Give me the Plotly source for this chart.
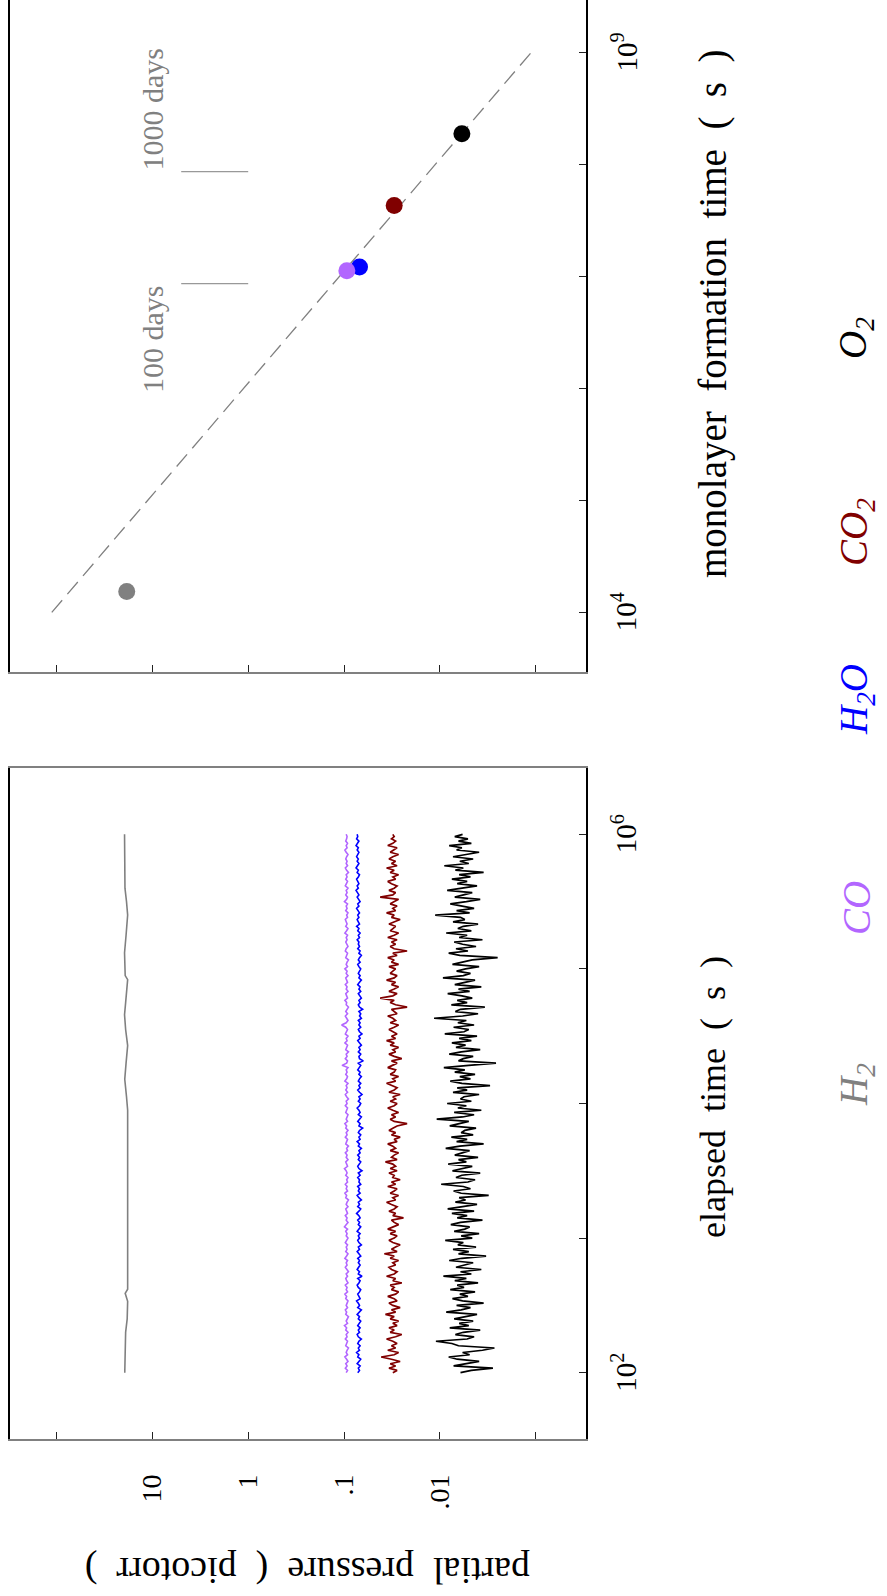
import numpy as np
import plotly.graph_objects as go

W, H = 887, 1596

# ---------------- data ----------------
gas_labels = ["<i>H<sub>2</sub></i>", "<i>CO</i>", "<i>H<sub>2</sub>O</i>",
              "<i>CO<sub>2</sub></i>", "<i>O<sub>2</sub></i>"]
gas_colors = ["#808080", "#b266ff", "#0000ff", "#800000", "#000000"]

# H2 partial pressure (picotorr) vs elapsed time (s)
h2_logt = [2.00, 2.10, 2.22, 2.30, 2.40, 2.47, 2.53, 2.59, 2.62, 2.80, 3.00, 3.30,
           3.60, 3.95, 4.05, 4.18, 4.30, 4.43, 4.55, 4.66, 4.75, 4.92, 4.95, 5.05,
           5.12, 5.25, 5.40, 5.50, 5.60, 5.80, 6.00]
h2_p = [19.4, 19.3, 19.4, 19.0, 18.3, 18.1, 18.1, 19.2, 18.1, 18.1, 18.1, 18.1,
        18.1, 18.1, 18.6, 19.4, 18.8, 18.1, 19.0, 19.5, 19.0, 18.1, 19.2, 19.4,
        19.5, 18.8, 18.1, 18.6, 19.3, 19.4, 19.5]

# samples are log-spaced from 1e2 s to 1e6 s
co_p = [0.095, 0.092, 0.097, 0.093, 0.096, 0.091, 0.094, 0.098, 0.092, 0.095, 0.093, 0.090,
        0.096, 0.094, 0.092, 0.097, 0.093, 0.095, 0.091, 0.096, 0.094, 0.099, 0.092, 0.095,
        0.093, 0.090, 0.096, 0.094, 0.097, 0.092, 0.095, 0.093, 0.091, 0.096, 0.094, 0.098,
        0.092, 0.095, 0.093, 0.097, 0.091, 0.094, 0.096, 0.092, 0.095, 0.090, 0.094, 0.097,
        0.093, 0.095, 0.092, 0.098, 0.094, 0.091, 0.096, 0.093, 0.095, 0.092, 0.097, 0.094,
        0.091, 0.095, 0.093, 0.096, 0.092, 0.099, 0.094, 0.091, 0.095, 0.093, 0.097, 0.092,
        0.094, 0.096, 0.091, 0.095, 0.093, 0.090, 0.096, 0.094, 0.098, 0.092, 0.095, 0.093,
        0.097, 0.092, 0.094, 0.091, 0.096, 0.093, 0.095, 0.099, 0.092, 0.094, 0.096, 0.091,
        0.095, 0.093, 0.097, 0.092, 0.094, 0.090, 0.096, 0.094, 0.092, 0.097, 0.093, 0.095,
        0.091, 0.096, 0.094, 0.098, 0.092, 0.095, 0.093, 0.091, 0.096, 0.094, 0.092, 0.097,
        0.093, 0.095, 0.090, 0.094, 0.097, 0.092, 0.096, 0.093, 0.095, 0.091, 0.098, 0.094,
        0.092, 0.096, 0.093, 0.095, 0.091, 0.105, 0.094, 0.092, 0.097, 0.093, 0.095, 0.090,
        0.096, 0.094, 0.092, 0.098, 0.093, 0.095, 0.091, 0.097, 0.094, 0.092, 0.096, 0.106,
        0.095, 0.091, 0.094, 0.097, 0.092, 0.096, 0.093, 0.090, 0.095, 0.094, 0.098, 0.092,
        0.094, 0.096, 0.091, 0.095, 0.093, 0.097, 0.092, 0.094, 0.096, 0.091, 0.095, 0.093,
        0.098, 0.092, 0.095, 0.093, 0.090, 0.096, 0.094, 0.092, 0.097, 0.095, 0.091, 0.094,
        0.096, 0.093, 0.095, 0.092, 0.098, 0.094, 0.091, 0.096, 0.093, 0.095, 0.097, 0.092,
        0.094, 0.091, 0.096, 0.093, 0.095, 0.092, 0.099, 0.094, 0.092, 0.096, 0.093, 0.095,
        0.091, 0.097, 0.094, 0.092, 0.096, 0.093, 0.095, 0.090, 0.094, 0.097, 0.092, 0.095,
        0.093, 0.096, 0.094, 0.091, 0.095, 0.098, 0.093, 0.095, 0.092, 0.096, 0.094, 0.093,
        0.095]

h2o_p = [0.072, 0.069, 0.071, 0.068, 0.073, 0.070, 0.067, 0.072, 0.070, 0.074, 0.069, 0.071,
         0.068, 0.072, 0.070, 0.066, 0.071, 0.073, 0.069, 0.071, 0.068, 0.072, 0.070, 0.067,
         0.071, 0.069, 0.073, 0.070, 0.066, 0.072, 0.069, 0.071, 0.074, 0.068, 0.070, 0.072,
         0.069, 0.067, 0.071, 0.073, 0.070, 0.068, 0.072, 0.065, 0.071, 0.069, 0.073, 0.070,
         0.068, 0.071, 0.069, 0.072, 0.067, 0.070, 0.073, 0.069, 0.071, 0.066, 0.070, 0.072,
         0.069, 0.071, 0.068, 0.073, 0.070, 0.067, 0.071, 0.069, 0.072, 0.068, 0.070, 0.074,
         0.070, 0.067, 0.072, 0.069, 0.071, 0.066, 0.070, 0.073, 0.068, 0.071, 0.069, 0.072,
         0.067, 0.070, 0.069, 0.072, 0.068, 0.071, 0.065, 0.070, 0.072, 0.069, 0.067, 0.071,
         0.069, 0.072, 0.068, 0.070, 0.066, 0.071, 0.069, 0.073, 0.068, 0.070, 0.067, 0.071,
         0.069, 0.064, 0.070, 0.068, 0.072, 0.069, 0.066, 0.071, 0.068, 0.070, 0.073, 0.069,
         0.067, 0.071, 0.068, 0.070, 0.065, 0.069, 0.072, 0.068, 0.070, 0.067, 0.071, 0.069,
         0.066, 0.070, 0.068, 0.072, 0.069, 0.067, 0.071, 0.063, 0.069, 0.070, 0.067, 0.071,
         0.068, 0.070, 0.066, 0.069, 0.072, 0.068, 0.070, 0.065, 0.069, 0.071, 0.067, 0.070,
         0.068, 0.071, 0.066, 0.069, 0.067, 0.070, 0.064, 0.069, 0.071, 0.068, 0.070, 0.066,
         0.069, 0.071, 0.067, 0.070, 0.068, 0.072, 0.069, 0.066, 0.070, 0.068, 0.071, 0.069,
         0.067, 0.070, 0.072, 0.068, 0.071, 0.069, 0.066, 0.070, 0.068, 0.072, 0.069, 0.071,
         0.070, 0.073, 0.069, 0.071, 0.068, 0.072, 0.070, 0.074, 0.069, 0.071, 0.073, 0.070,
         0.072, 0.069, 0.071, 0.074, 0.070, 0.072, 0.068, 0.071, 0.073, 0.070, 0.072, 0.075,
         0.071, 0.073, 0.070, 0.072, 0.074, 0.071, 0.069, 0.073, 0.071, 0.075, 0.072, 0.070,
         0.073, 0.071, 0.074, 0.072, 0.070, 0.073, 0.071, 0.075, 0.072, 0.070, 0.074, 0.072,
         0.073]

co2_p = [0.031, 0.028, 0.034, 0.029, 0.033, 0.026, 0.032, 0.041, 0.030, 0.027, 0.035, 0.029,
         0.032, 0.028, 0.031, 0.036, 0.029, 0.025, 0.033, 0.030, 0.034, 0.028, 0.031, 0.027,
         0.033, 0.030, 0.037, 0.029, 0.032, 0.026, 0.031, 0.034, 0.028, 0.030, 0.035, 0.029,
         0.027, 0.032, 0.030, 0.033, 0.025, 0.031, 0.029, 0.036, 0.030, 0.028, 0.032, 0.034,
         0.029, 0.031, 0.027, 0.033, 0.030, 0.038, 0.028, 0.032, 0.029, 0.026, 0.031, 0.034,
         0.030, 0.028, 0.033, 0.029, 0.035, 0.031, 0.027, 0.030, 0.032, 0.024, 0.031, 0.029,
         0.034, 0.030, 0.028, 0.032, 0.036, 0.029, 0.031, 0.027, 0.033, 0.030, 0.028, 0.035,
         0.029, 0.032, 0.026, 0.031, 0.030, 0.034, 0.028, 0.033, 0.029, 0.031, 0.037, 0.028,
         0.032, 0.030, 0.027, 0.033, 0.029, 0.031, 0.035, 0.028, 0.030, 0.026, 0.032, 0.029,
         0.034, 0.031, 0.028, 0.022, 0.030, 0.033, 0.029, 0.032, 0.027, 0.031, 0.035, 0.030,
         0.028, 0.033, 0.029, 0.031, 0.026, 0.034, 0.030, 0.028, 0.032, 0.036, 0.029, 0.031,
         0.027, 0.033, 0.030, 0.029, 0.035, 0.031, 0.028, 0.032, 0.025, 0.030, 0.034, 0.029,
         0.031, 0.027, 0.033, 0.030, 0.036, 0.029, 0.032, 0.028, 0.031, 0.034, 0.030, 0.027,
         0.033, 0.029, 0.031, 0.035, 0.028, 0.030, 0.032, 0.022, 0.029, 0.033, 0.030, 0.042,
         0.031, 0.028, 0.034, 0.030, 0.027, 0.032, 0.029, 0.036, 0.030, 0.028, 0.033, 0.031,
         0.029, 0.034, 0.027, 0.032, 0.030, 0.035, 0.028, 0.031, 0.022, 0.030, 0.033, 0.029,
         0.032, 0.028, 0.035, 0.030, 0.027, 0.033, 0.031, 0.029, 0.034, 0.030, 0.026, 0.032,
         0.030, 0.036, 0.029, 0.031, 0.028, 0.033, 0.030, 0.027, 0.042, 0.031, 0.029, 0.034,
         0.030, 0.028, 0.032, 0.035, 0.029, 0.031, 0.027, 0.033, 0.030, 0.036, 0.028, 0.032,
         0.029, 0.034, 0.031, 0.027, 0.033, 0.030, 0.028, 0.035, 0.031, 0.029, 0.032, 0.030,
         0.031]

o2_p = [0.0061, 0.0047, 0.0028, 0.0072, 0.0053, 0.0039, 0.0066, 0.0081, 0.0049, 0.0058, 0.0036, 0.0027,
        0.0064, 0.0075, 0.0110, 0.0052, 0.0044, 0.0069, 0.0057, 0.0038, 0.0079, 0.0050, 0.0063, 0.0045,
        0.0071, 0.0055, 0.0041, 0.0086, 0.0060, 0.0048, 0.0067, 0.0035, 0.0058, 0.0074, 0.0051, 0.0062,
        0.0043, 0.0078, 0.0056, 0.0066, 0.0040, 0.0070, 0.0053, 0.0092, 0.0047, 0.0061, 0.0037, 0.0068,
        0.0054, 0.0045, 0.0080, 0.0059, 0.0033, 0.0064, 0.0050, 0.0073, 0.0042, 0.0065, 0.0057, 0.0088,
        0.0046, 0.0060, 0.0039, 0.0071, 0.0055, 0.0049, 0.0077, 0.0061, 0.0036, 0.0066, 0.0052, 0.0075,
        0.0044, 0.0083, 0.0058, 0.0041, 0.0069, 0.0054, 0.0063, 0.0031, 0.0060, 0.0072, 0.0048, 0.0057,
        0.0097, 0.0051, 0.0043, 0.0068, 0.0059, 0.0038, 0.0074, 0.0056, 0.0046, 0.0082, 0.0053, 0.0064,
        0.0040, 0.0070, 0.0057, 0.0049, 0.0087, 0.0062, 0.0035, 0.0067, 0.0052, 0.0076, 0.0045, 0.0060,
        0.0055, 0.0042, 0.0079, 0.0063, 0.0050, 0.0108, 0.0058, 0.0044, 0.0071, 0.0037, 0.0065, 0.0053,
        0.0084, 0.0047, 0.0061, 0.0056, 0.0039, 0.0073, 0.0052, 0.0066, 0.0030, 0.0059, 0.0078, 0.0048,
        0.0062, 0.0043, 0.0070, 0.0055, 0.0091, 0.0050, 0.0026, 0.0064, 0.0057, 0.0045, 0.0080, 0.0060,
        0.0038, 0.0068, 0.0054, 0.0075, 0.0047, 0.0063, 0.0041, 0.0089, 0.0056, 0.0050, 0.0072, 0.0044,
        0.0065, 0.0053, 0.0115, 0.0058, 0.0040, 0.0069, 0.0061, 0.0034, 0.0076, 0.0052, 0.0066, 0.0046,
        0.0059, 0.0083, 0.0049, 0.0064, 0.0037, 0.0070, 0.0055, 0.0043, 0.0093, 0.0057, 0.0048, 0.0067,
        0.0054, 0.0039, 0.0074, 0.0060, 0.0046, 0.0025, 0.0062, 0.0081, 0.0051, 0.0068, 0.0042, 0.0058,
        0.0071, 0.0036, 0.0063, 0.0052, 0.0086, 0.0047, 0.0065, 0.0057, 0.0040, 0.0073, 0.0055, 0.0061,
        0.0112, 0.0049, 0.0067, 0.0044, 0.0060, 0.0078, 0.0053, 0.0038, 0.0070, 0.0058, 0.0046, 0.0084,
        0.0056, 0.0041, 0.0066, 0.0052, 0.0075, 0.0048, 0.0063, 0.0035, 0.0069, 0.0057, 0.0090, 0.0050,
        0.0062, 0.0045, 0.0073, 0.0054, 0.0039, 0.0067, 0.0059, 0.0080, 0.0047, 0.0064, 0.0051, 0.0070,
        0.0058]

# monolayer formation time panel
mono_p = [18.5, 0.0935, 0.069, 0.030, 0.0059]          # picotorr
mono_t = [1.535e4, 1.127e7, 1.216e7, 4.315e7, 1.888e8]  # s
fit_p = [112.0, 0.00112]
fit_t = [1e4, 1e9]
day_labels = ["100 days", "1000 days"]
day_t = [8.64e6, 8.64e7]
day_p_span = [5.0, 1.0]

# ticks
p_tickvals = [100, 10, 1, 0.1, 0.01, 0.001]
p_ticktext = ["", "10", "1", ".1", ".01", ""]
t1_tickvals = [1e2, 1e3, 1e4, 1e5, 1e6]
t1_labels = {2: "10<sup>2</sup>", 6: "10<sup>6</sup>"}
t2_tickvals = [1e4, 1e5, 1e6, 1e7, 1e8, 1e9]
t2_labels = {4: "10<sup>4</sup>", 9: "10<sup>9</sup>"}

# ---------------- figure ----------------
FONT = "Liberation Serif"
fig = go.Figure()

fig.add_trace(go.Scatter(x=h2_p, y=[10 ** v for v in h2_logt], mode="lines",
                         line=dict(color=gas_colors[0], width=1.6),
                         xaxis="x", yaxis="y", showlegend=False))
for vals, ci, lw in [(co_p, 1, 1.6), (h2o_p, 2, 1.6), (co2_p, 3, 1.7), (o2_p, 4, 1.7)]:
    tt = np.logspace(2, 6, len(vals))
    fig.add_trace(go.Scatter(x=vals, y=tt, mode="lines",
                             line=dict(color=gas_colors[ci], width=lw),
                             xaxis="x", yaxis="y", showlegend=False))

# top panel
fig.add_trace(go.Scatter(x=fit_p, y=fit_t, mode="lines",
                         line=dict(color="#808080", width=1.3, dash="16px,8px"),
                         xaxis="x2", yaxis="y2", showlegend=False))
for dt in day_t:
    fig.add_trace(go.Scatter(x=day_p_span, y=[dt, dt], mode="lines",
                             line=dict(color="#999999", width=1.2),
                             xaxis="x2", yaxis="y2", showlegend=False))
for i in [0, 2, 1, 3, 4]:
    fig.add_trace(go.Scatter(x=[mono_p[i]], y=[mono_t[i]], mode="markers",
                             marker=dict(color=gas_colors[i], size=17, line=dict(width=0)),
                             xaxis="x2", yaxis="y2", showlegend=False))

xdom = [10 / W, 586 / W]
ax_x = dict(type="log", range=[2.485, -3.524], tickvals=p_tickvals,
            ticks="inside", ticklen=7, tickwidth=1.3, tickcolor="#222222",
            showline=True, linecolor="#808080", linewidth=2, mirror=True,
            showgrid=False, zeroline=False, domain=xdom, automargin=False)
ax_y = dict(type="log", side="right", ticks="inside", ticklen=7, tickwidth=1.3,
            tickcolor="#222222", showticklabels=False,
            showline=True, linecolor="#000000", linewidth=1.6, mirror=True,
            showgrid=False, zeroline=False, automargin=False)

fig.update_layout(
    width=W, height=H, margin=dict(l=0, r=0, t=0, b=0),
    paper_bgcolor="white", plot_bgcolor="white",
    font=dict(family=FONT, color="black"),
    xaxis=dict(ax_x, anchor="y", ticktext=p_ticktext, tickangle=-90,
               tickfont=dict(family=FONT, size=28, color="black"),
               ticklabelstandoff=22),
    yaxis=dict(ax_y, anchor="x", range=[1.505, 6.495], tickvals=t1_tickvals,
               domain=[(H - 1439.3) / H, (H - 767.7) / H]),
    xaxis2=dict(ax_x, anchor="y2", showticklabels=False),
    yaxis2=dict(ax_y, anchor="x2", range=[3.47, 9.47], tickvals=t2_tickvals,
                domain=[(H - 671.7) / H, 1.0]),
)

ann = []
for e, txt in t1_labels.items():
    ann.append(dict(text=txt, x=624 / W, xref="paper", y=e, yref="y", textangle=-90,
                    xanchor="center", yanchor="middle", showarrow=False,
                    font=dict(family=FONT, size=29, color="black")))
for e, txt in t2_labels.items():
    ann.append(dict(text=txt, x=624 / W, xref="paper", y=e, yref="y2", textangle=-90,
                    xanchor="center", yanchor="middle", showarrow=False,
                    font=dict(family=FONT, size=29, color="black")))
sp = "\u00a0\u00a0"
ann.append(dict(text=f"elapsed{sp}time{sp}({sp}s{sp})", x=713 / W, xref="paper",
                y=(H - 1097) / H, yref="paper", textangle=-90, showarrow=False,
                xanchor="center", yanchor="middle",
                font=dict(family=FONT, size=36, color="black")))
ann.append(dict(text=f"monolayer{sp}formation{sp}time{sp}({sp}s{sp})", x=713 / W, xref="paper",
                y=(H - 314) / H, yref="paper", textangle=-90, showarrow=False,
                xanchor="center", yanchor="middle",
                font=dict(family=FONT, size=39, color="black")))
ann.append(dict(text=f"partial{sp}pressure{sp}({sp}picotorr{sp})", x=308 / W, xref="paper",
                y=(H - 1571) / H, yref="paper", textangle=180, showarrow=False,
                xanchor="center", yanchor="middle",
                font=dict(family=FONT, size=38, color="black")))
for lbl, dt, ya in zip(day_labels, day_t, ["top", "bottom"]):
    ann.append(dict(text=lbl, x=1.0, xref="x2", y=np.log10(dt), yref="y2",
                    textangle=-90, showarrow=False, xanchor="center", yanchor=ya,
                    borderpad=0, font=dict(family=FONT, size=30, color="#808080")))
leg_y = [1085, 908, 700, 532, 338]
for lbl, col, yy in zip(gas_labels, gas_colors, leg_y):
    ann.append(dict(text=lbl, x=856 / W, xref="paper", y=(H - yy) / H, yref="paper",
                    textangle=-90, showarrow=False, xanchor="center", yanchor="middle",
                    font=dict(family=FONT, size=39, color=col)))
fig.update_layout(annotations=ann)

fig.write_html("out.html", config={"displayModeBar": False},
               post_script="document.body.style.margin='0px';")
